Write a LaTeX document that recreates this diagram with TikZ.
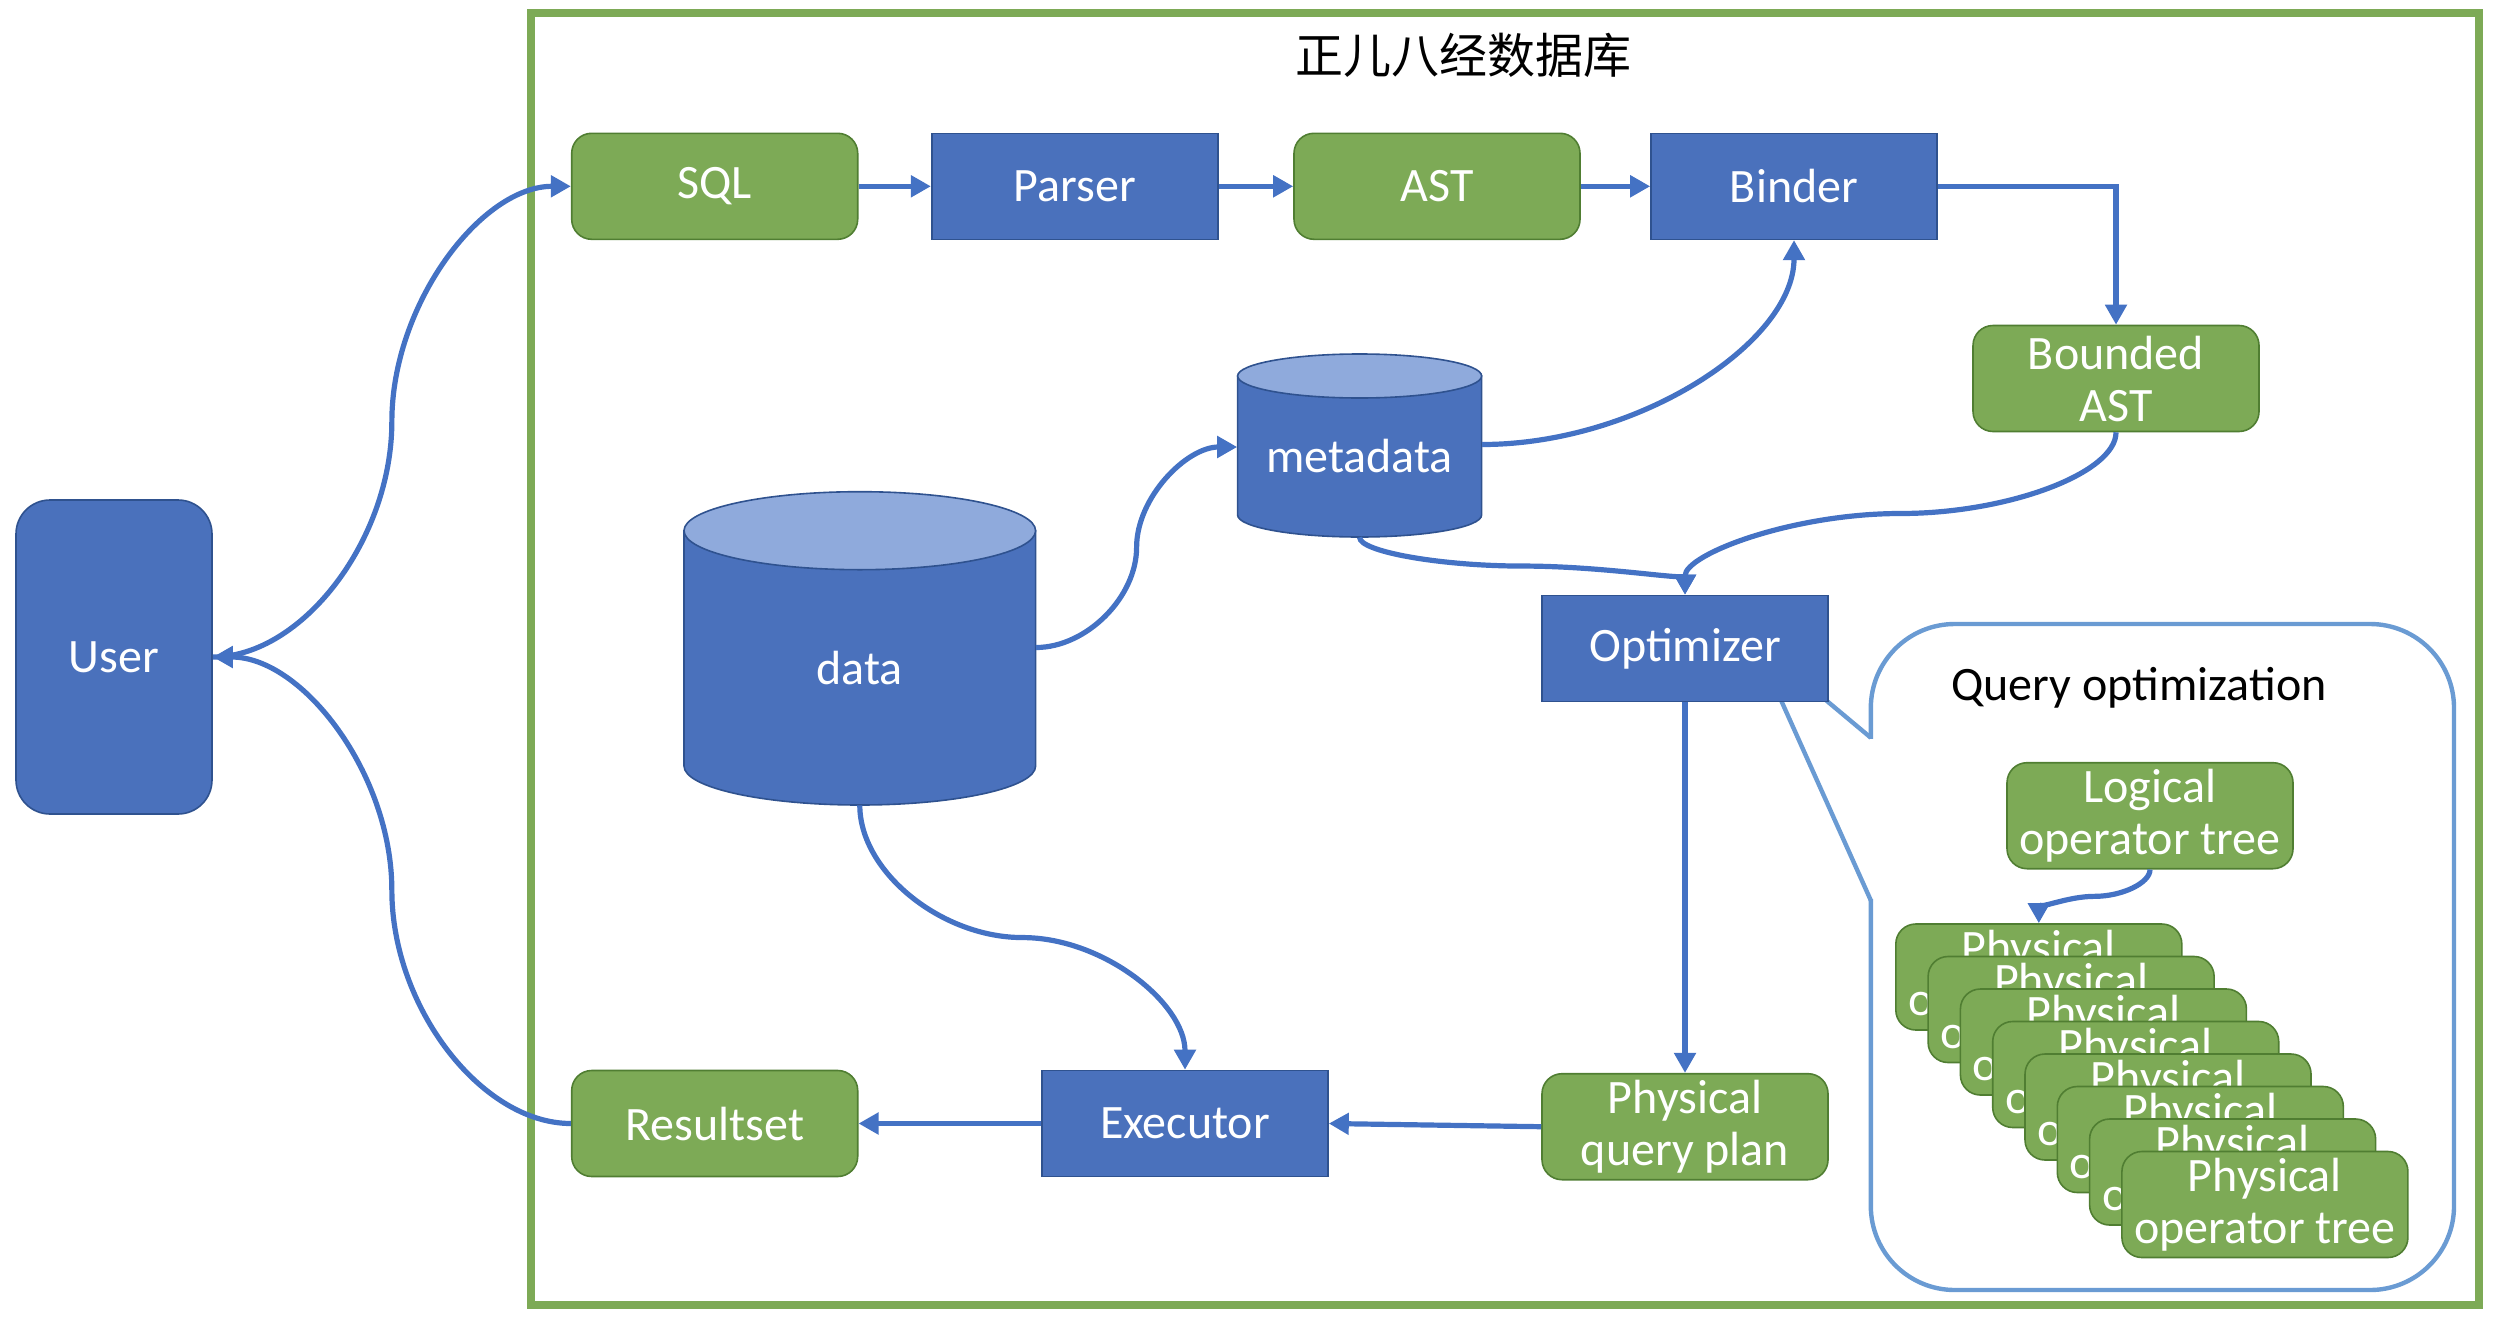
\documentclass[tikz,border=0pt]{standalone}
\usepackage{fontspec}
\setmainfont{Carlito}
\newfontfamily\cjkfont{Noto Sans CJK SC}
\usepackage{tikz}
\usetikzlibrary{positioning,shapes,arrows.meta,calc}

\definecolor{bluefill}{HTML}{4A71BC}
\definecolor{blueline}{HTML}{2F528F}
\definecolor{greenfill}{HTML}{7DAA56}
\definecolor{greenline}{HTML}{507E32}
\definecolor{cyllight}{HTML}{8FAADC}
\definecolor{connblue}{HTML}{4472C4}
\definecolor{framegreen}{HTML}{7DAA56}
\definecolor{calloutcol}{HTML}{6A9BD3}

\begin{document}
\begin{tikzpicture}[x=0.5pt, y=-0.5pt,
    every node/.style={font=\fontsize{24}{26}\selectfont},
    bluebox/.style={draw=blueline, line width=0.8pt, fill=bluefill, text=white,
      minimum width=143pt, minimum height=53pt, inner sep=0pt, align=center},
    greenbox/.style={bluebox, draw=greenline, fill=greenfill, rounded corners=10pt},
    cylbody/.style={draw=blueline, line width=0.8pt, fill=bluefill},
    cyltop/.style={draw=blueline, line width=0.8pt, fill=cyllight},
    cyltext/.style={text=white, inner sep=0pt},
    conn/.style={draw=connblue, line width=2.6pt, -{Triangle[length=10pt,width=10.5pt]}},
    hcurve/.style={to path={let \p1=(\tikztostart), \p2=(\tikztotarget) in
      .. controls ({0.75*\x1+0.25*\x2},\y1) and ({0.5*\x1+0.5*\x2},{0.75*\y1+0.25*\y2})
      .. ({0.5*\x1+0.5*\x2},{0.5*\y1+0.5*\y2})
      .. controls ({0.5*\x1+0.5*\x2},{0.25*\y1+0.75*\y2}) and ({0.25*\x1+0.75*\x2},\y2)
      .. (\tikztotarget)}},
    vcurve/.style={to path={let \p1=(\tikztostart), \p2=(\tikztotarget) in
      .. controls (\x1,{0.75*\y1+0.25*\y2}) and ({0.75*\x1+0.25*\x2},{0.5*\y1+0.5*\y2})
      .. ({0.5*\x1+0.5*\x2},{0.5*\y1+0.5*\y2})
      .. controls ({0.25*\x1+0.75*\x2},{0.5*\y1+0.5*\y2}) and (\x2,{0.25*\y1+0.75*\y2})
      .. (\tikztotarget)}},
    lcurve/.style={to path={let \p1=(\tikztostart), \p2=(\tikztotarget) in
      .. controls ({0.5*\x1+0.5*\x2},\y1) and (\x2,{0.5*\y1+0.5*\y2}) .. (\tikztotarget)}}]
  \useasboundingbox (0,0) rectangle (2498,1322);

  \draw[framegreen, line width=4pt] (530.5,13) rectangle (2479,1305);
  \node (title) at (1463,55) {\cjkfont 正儿八经数据库};

  % callout
  \draw[calloutcol, line width=2.2pt, rounded corners=42pt] (1870.8,624) rectangle (2454,1290);
  \fill[white] (1865,739) rectangle (1877,899);
  \draw[calloutcol, line width=2.2pt] (1870.8,737.7) -- (1754,640) -- (1870.8,900.4);
  \node (qopt) at (2139,688) {Query optimization};

  % cylinders
  \draw[cylbody] (684,530.7) -- (684,766) arc[start angle=180, end angle=360, x radius=87.9pt, y radius=19.5pt] -- (1035.6,530.7) -- cycle;
  \draw[cyltop] (859.8,530.7) ellipse[x radius=87.9pt, y radius=19.5pt];
  \draw[cylbody] (1237.6,376) -- (1237.6,515) arc[start angle=180, end angle=360, x radius=61pt, y radius=11pt] -- (1481.6,376) -- cycle;
  \draw[cyltop] (1359.6,376) ellipse[x radius=61pt, y radius=11pt];
  \node[cyltext, minimum width=175.8pt, minimum height=137pt] (data) at (859.8,668) {data};
  \node[cyltext, minimum width=122pt, minimum height=80.5pt] (meta) at (1359.6,456.5) {metadata};

  \node[bluebox, rounded corners=17pt, minimum width=98pt, minimum height=157pt] (user) at (114,657) {User};
  \node[greenbox] (sql) at (714.7,186.3) {SQL};
  \node[bluebox] (parser) at (1074.7,186.3) {Parser};
  \node[greenbox] (ast) at (1437,186.3) {AST};
  \node[bluebox] (binder) at (1794,186.3) {Binder};
  \node[greenbox] (bast) at (2116,378.5) {Bounded\\AST};
  \node[bluebox] (opt) at (1685,648.5) {Optimizer};
  \node[greenbox] (plan) at (1685,1126.7) {Physical\\query plan};
  \node[bluebox] (exec) at (1185,1123.5) {Executor};
  \node[greenbox] (result) at (714.7,1123.5) {Resultset};
  \node[greenbox] (logic) at (2150,815.7) {Logical\\operator tree};
  \foreach \i in {0,...,7}
    \node[greenbox] (phys\i) at ({2038.8+32.3*\i},{977+32.5*\i}) {Physical\\operator tree};

  \draw[conn] (sql.east) -- (parser.west);
  \draw[conn] (parser.east) -- (ast.west);
  \draw[conn] (ast.east) -- (binder.west);
  \draw[conn] (binder.east) -| (bast.north);
  \draw[conn] (user.east) to[hcurve] (sql.west);
  \draw[conn] (result.west) to[hcurve] (user.east);
  \draw[conn] ([yshift=10.25pt]data.east) to[hcurve] ([yshift=4.75pt]meta.west);
  \draw[conn] ([yshift=6pt]meta.east) to[lcurve] (binder.south);
  \draw[conn] (meta.south) to[vcurve] (opt.north);
  \draw[conn] (bast.south) to[vcurve] (opt.north);
  \draw[conn] (data.south) to[vcurve] (exec.north);
  \draw[conn] (opt.south) -- (plan.north);
  \draw[conn] (plan.west) -- (exec.east);
  \draw[conn] (exec.west) -- (result.east);
  \draw[conn] (logic.south) to[vcurve] (phys0.north);
\end{tikzpicture}
\end{document}
